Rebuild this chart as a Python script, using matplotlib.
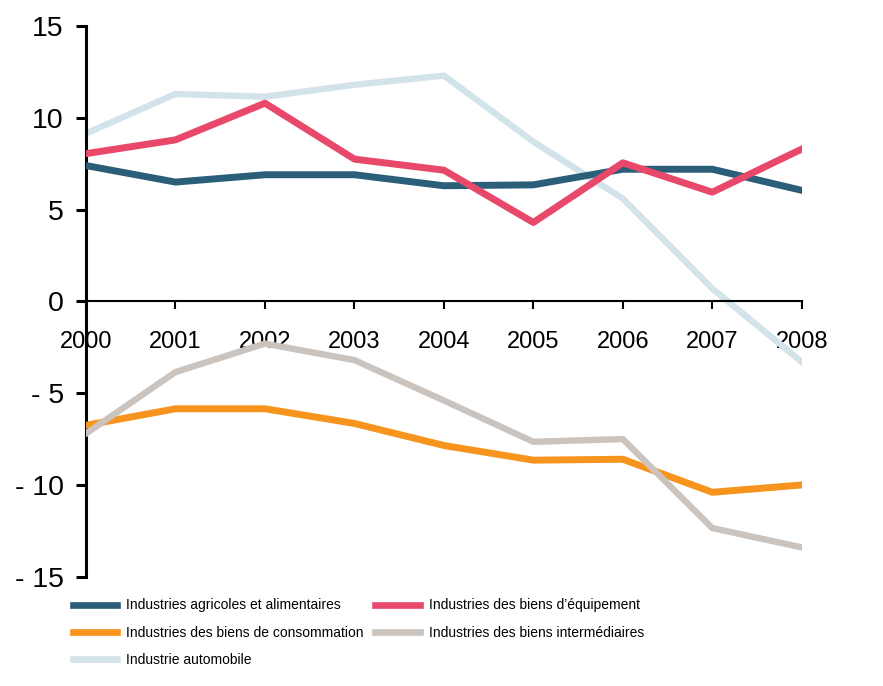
import numpy as np
import matplotlib
matplotlib.use("Agg")
import matplotlib.pyplot as plt

plt.rcParams['font.family'] = ['Liberation Sans', 'DejaVu Sans']

# Données
annees = [2000, 2001, 2002, 2003, 2004, 2005, 2006, 2007, 2008]
agricoles = [7.4, 6.5, 6.9, 6.9, 6.3, 6.35, 7.2, 7.2, 6.05]
equipement = [8.05, 8.8, 10.8, 7.75, 7.15, 4.3, 7.55, 5.95, 8.3]
consommation = [-6.75, -5.85, -5.85, -6.65, -7.85, -8.65, -8.6, -10.4, -10.0]
intermediaires = [-7.2, -3.85, -2.3, -3.2, -5.4, -7.65, -7.5, -12.35, -13.4]
automobile = [9.15, 11.3, 11.15, 11.8, 12.3, 8.7, 5.6, 0.7, -3.3]

yticks = [-15, -10, -5, 0, 5, 10, 15]
ytick_labels = ["- 15", "- 10", "- 5", "0", "5", "10", "15"]

fig = plt.figure(figsize=(8.83, 6.86), dpi=100)
ax = fig.add_axes([0.0974, 0.1593, 0.8106, 0.8027])

ax.plot(annees, automobile, color='#d3e3ea', lw=4.6, label='Industrie automobile', zorder=2)
ax.plot(annees, agricoles, color='#2b5e79', lw=5, label='Industries agricoles et alimentaires', zorder=3)
ax.plot(annees, equipement, color='#e8496b', lw=5, label="Industries des biens d\u2019\u00e9quipement", zorder=4)
ax.plot(annees, consommation, color='#f7941d', lw=5, label='Industries des biens de consommation', zorder=3)
ax.plot(annees, intermediaires, color='#cbc3be', lw=4.6, label='Industries des biens interm\u00e9diaires', zorder=4)

ax.set_xlim(2000, 2008)
ax.set_ylim(-15, 15)
ax.spines['top'].set_visible(False)
ax.spines['right'].set_visible(False)
ax.spines['bottom'].set_position(('data', 0))
ax.spines['left'].set_linewidth(2.2)
ax.spines['bottom'].set_linewidth(1.5)

ax.set_xticks(annees)
ax.set_xticklabels([str(a) for a in annees])
ax.tick_params(axis='x', direction='out', length=6, width=1.5, pad=15, labelsize=17)
ax.set_yticks(yticks)
ax.set_yticklabels(ytick_labels)
ax.tick_params(axis='y', direction='out', length=7, width=2.2, pad=9, labelsize=20.5)
ax.get_xticklabels()[0].set_bbox(dict(facecolor='white', edgecolor='none', pad=1))

# Légende : colonne 1 = agricoles, consommation, automobile ; colonne 2 = équipement, intermédiaires
h, l = ax.get_legend_handles_labels()
hs = [h[1], h[3], h[0], h[2], h[4]]
ls = [l[1], l[3], l[0], l[2], l[4]]
leg = fig.legend(hs, ls, loc='upper left', bbox_to_anchor=(0.0827, 0.1276), ncol=2,
                 frameon=False, handlelength=3.2, handletextpad=0.65,
                 columnspacing=0.8, labelspacing=0.95, borderaxespad=0, borderpad=0,
                 fontsize=10)
for line in leg.get_lines():
    line.set_linewidth(4.8)

fig.savefig('out.png', dpi=100)
